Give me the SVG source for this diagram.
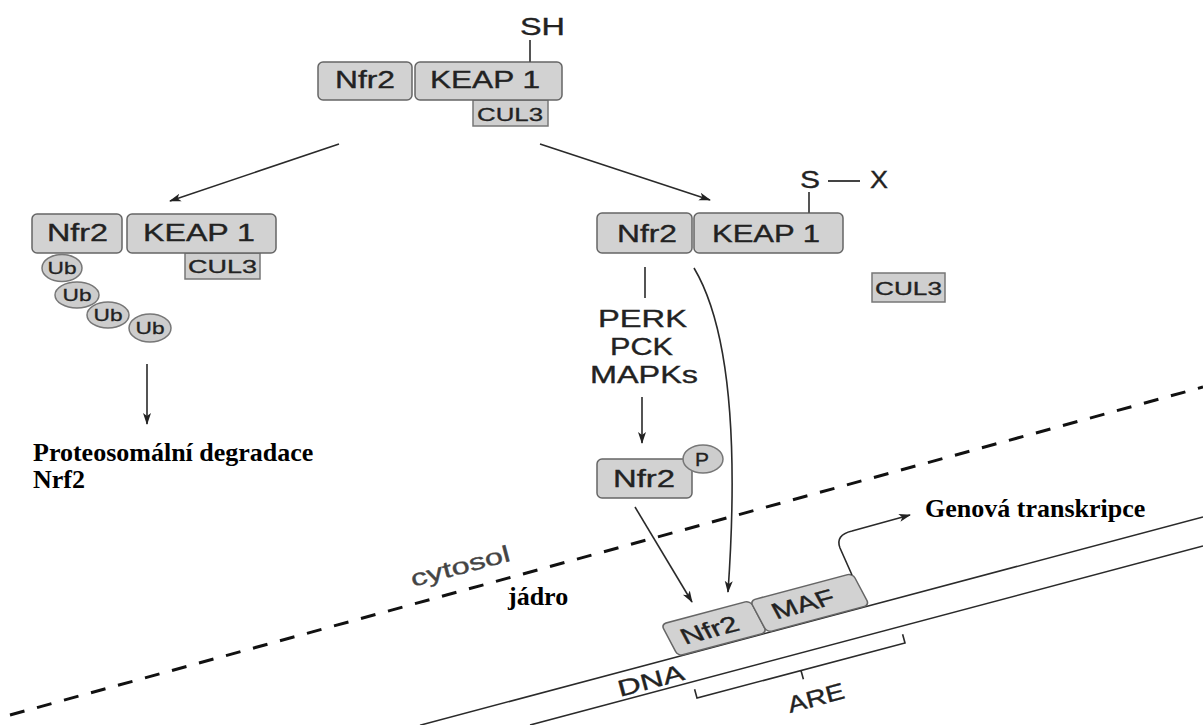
<svg xmlns="http://www.w3.org/2000/svg" width="1203" height="725" viewBox="0 0 1203 725">
<style>
.box{fill:#d2d2d2;stroke:#666;stroke-width:1.5}
.sq{fill:#cfcfcf;stroke:#777;stroke-width:1.5}
.t{font-family:"Liberation Sans",Arial,sans-serif;font-size:23px;fill:#222;stroke:#222;stroke-width:0.35}
.s{font-family:"Liberation Sans",Arial,sans-serif;font-size:18px;fill:#222;stroke:#222;stroke-width:0.3}
.ub{font-family:"Liberation Sans",Arial,sans-serif;font-size:17px;fill:#222;stroke:#222;stroke-width:0.3}
.b{font-family:"Liberation Serif","Times New Roman",serif;font-weight:bold;font-size:26px;fill:#000}
.ln{fill:none;stroke:#2a2a2a;stroke-width:1.6}
.ar{fill:none;stroke:#2a2a2a;stroke-width:1.6;marker-end:url(#ah)}
.circ{fill:#cdcdcd;stroke:#777;stroke-width:1.5}
</style>
<defs>
<marker id="ah" viewBox="0 0 12 10" refX="11" refY="5" markerWidth="12" markerHeight="10" markerUnits="userSpaceOnUse" orient="auto">
<path d="M0,1 L12,5 L0,9 L3,5 z" fill="#222"/>
</marker>
</defs>
<rect width="1203" height="725" fill="#fff"/>

<g id="membrane">
<line x1="10" y1="715" x2="1203" y2="387" stroke="#111" stroke-width="3" stroke-dasharray="15 13"/>
<text class="t" font-size="20" style="fill:#444;stroke:#444" transform="translate(413,587) rotate(-15)" textLength="102" lengthAdjust="spacingAndGlyphs">cytosol</text>
<text class="b" font-size="24" x="508" y="605">jádro</text>
</g>

<g id="dna">
<line x1="420" y1="725.2" x2="1203" y2="517" class="ln"/>
<line x1="530" y1="725" x2="1203" y2="546" class="ln"/>
<path d="M694.6,689.3 L697,698 L905,643 L902.6,634.3 M801,670.5 L803.4,679.2" class="ln"/>
<text class="t" font-size="22" transform="translate(620,697) rotate(-15)" textLength="68" lengthAdjust="spacingAndGlyphs">DNA</text>
<text class="t" font-size="22" transform="translate(790,713) rotate(-15)" textLength="58" lengthAdjust="spacingAndGlyphs">ARE</text>
</g>

<g id="complex-top">
<rect class="sq" x="473" y="100" width="75" height="26"/>
<text class="s" x="477" y="121" textLength="66" lengthAdjust="spacingAndGlyphs">CUL3</text>
<rect class="box" x="318" y="62" width="94" height="38" rx="5"/>
<rect class="box" x="415" y="62" width="147" height="38" rx="5"/>
<text class="t" x="335" y="88" textLength="60" lengthAdjust="spacingAndGlyphs">Nfr2</text>
<text class="t" x="430" y="88" textLength="110" lengthAdjust="spacingAndGlyphs">KEAP 1</text>
<line x1="530" y1="40" x2="530" y2="62" stroke="#555" stroke-width="2"/>
<text class="t" font-size="21" x="520" y="35" textLength="45" lengthAdjust="spacingAndGlyphs">SH</text>
</g>

<g id="complex-left">
<rect class="sq" x="185" y="253" width="75" height="26"/>
<text class="s" x="188" y="273" textLength="69" lengthAdjust="spacingAndGlyphs">CUL3</text>
<rect class="box" x="32" y="214" width="90" height="39" rx="5"/>
<rect class="box" x="127" y="214" width="149" height="39" rx="5"/>
<text class="t" x="47" y="241" textLength="61" lengthAdjust="spacingAndGlyphs">Nfr2</text>
<text class="t" x="143" y="241" textLength="112" lengthAdjust="spacingAndGlyphs">KEAP 1</text>
<ellipse class="circ" cx="62" cy="268" rx="20" ry="13.5"/>
<text class="ub" x="62" y="274" text-anchor="middle" textLength="29" lengthAdjust="spacingAndGlyphs">Ub</text>
<ellipse class="circ" cx="77" cy="295" rx="22" ry="13"/>
<text class="ub" x="77" y="301" text-anchor="middle" textLength="29" lengthAdjust="spacingAndGlyphs">Ub</text>
<ellipse class="circ" cx="108" cy="315" rx="21" ry="13"/>
<text class="ub" x="108" y="321" text-anchor="middle" textLength="29" lengthAdjust="spacingAndGlyphs">Ub</text>
<ellipse class="circ" cx="150" cy="328" rx="21" ry="14"/>
<text class="ub" x="150" y="334" text-anchor="middle" textLength="29" lengthAdjust="spacingAndGlyphs">Ub</text>
</g>

<g id="label-degradation">
<text class="b" x="33" y="461">Proteosomální degradace</text>
<text class="b" x="33" y="488">Nrf2</text>
</g>

<g id="complex-right">
<rect class="box" x="597" y="213" width="95" height="40" rx="5"/>
<rect class="box" x="694" y="213" width="149" height="40" rx="5"/>
<text class="t" x="617" y="242" textLength="60" lengthAdjust="spacingAndGlyphs">Nfr2</text>
<text class="t" x="712" y="242" textLength="108" lengthAdjust="spacingAndGlyphs">KEAP 1</text>
<line x1="809" y1="192" x2="809" y2="213" stroke="#555" stroke-width="2"/>
<text class="t" font-size="21" x="800" y="188" textLength="20" lengthAdjust="spacingAndGlyphs">S</text>
<line x1="828" y1="181" x2="860" y2="181" stroke="#444" stroke-width="2"/>
<text class="t" font-size="21" x="870" y="188" textLength="18" lengthAdjust="spacingAndGlyphs">X</text>
</g>

<g id="cul3-free">
<rect class="sq" x="872" y="273" width="73" height="29"/>
<text class="s" x="875" y="295" textLength="67" lengthAdjust="spacingAndGlyphs">CUL3</text>
</g>

<g id="kinases">
<text class="t" x="598" y="327" textLength="89" lengthAdjust="spacingAndGlyphs">PERK</text>
<text class="t" x="610" y="355" textLength="63" lengthAdjust="spacingAndGlyphs">PCK</text>
<text class="t" x="590" y="383" textLength="108" lengthAdjust="spacingAndGlyphs">MAPKs</text>
</g>

<g id="nfr2-p">
<rect class="box" x="597" y="459" width="95" height="39" rx="5"/>
<text class="t" x="613" y="487" textLength="62" lengthAdjust="spacingAndGlyphs">Nfr2</text>
<ellipse class="circ" cx="703" cy="459" rx="20" ry="14"/>
<text class="s" x="702" y="466" text-anchor="middle" textLength="14" lengthAdjust="spacingAndGlyphs">P</text>
</g>

<g id="complex-dna" transform="translate(678,656) rotate(-14.9) skewX(13)">
<rect class="box" x="0" y="-35" width="92" height="35" rx="5"/>
<rect class="box" x="92" y="-35" width="106" height="35" rx="5"/>
<text class="t" x="12" y="-9" textLength="58" lengthAdjust="spacingAndGlyphs">Nfr2</text>
<text class="t" x="107" y="-10" textLength="63" lengthAdjust="spacingAndGlyphs">MAF</text>
</g>

<g id="label-transcription">
<text class="b" x="925" y="517">Genová transkripce</text>
</g>

<g id="connectors">
<line class="ar" x1="339" y1="144" x2="170" y2="201"/>
<line class="ar" x1="540" y1="144" x2="710" y2="200"/>
<line class="ar" x1="147" y1="364" x2="147" y2="424"/>
<line class="ln" x1="645" y1="267" x2="645" y2="298"/>
<line class="ar" x1="642" y1="397" x2="642" y2="443"/>
<path class="ar" d="M694,268 C725,320 740,420 728,592"/>
<line class="ar" x1="635" y1="507" x2="692" y2="602"/>
<path class="ar" d="M852,575 L840,548 Q835,535 852,531 L910,515"/>
</g>
</svg>
